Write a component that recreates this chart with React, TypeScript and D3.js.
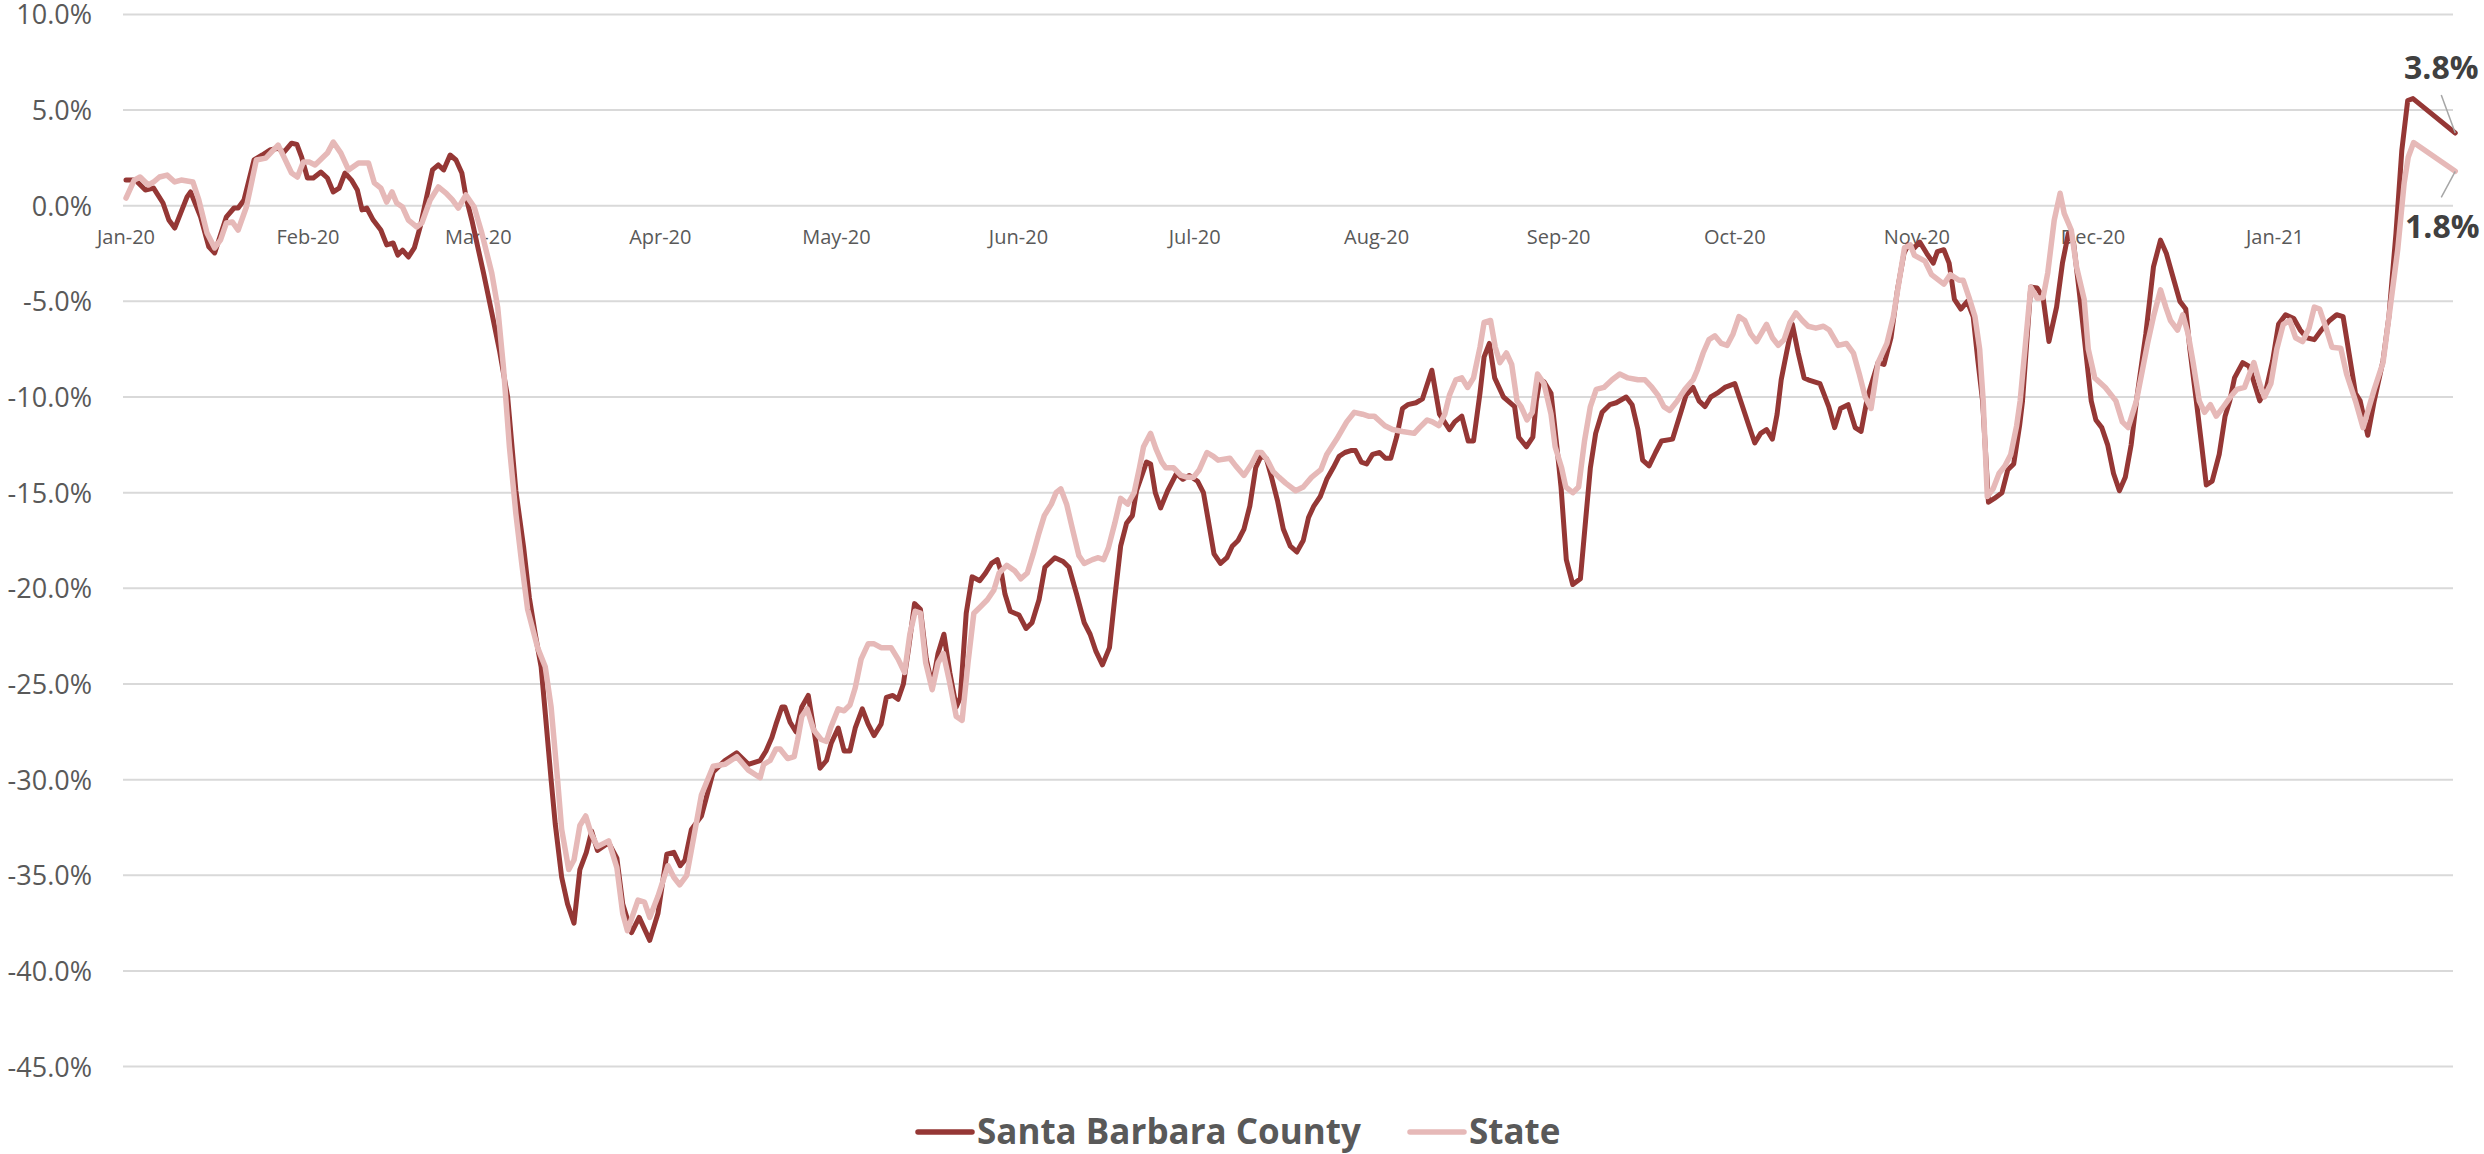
import React, { useEffect } from 'react';
import * as d3 from 'd3';

// days since 1 Jan 2020, percent change
const countySeries: [number, number][] = [
  [0, 1.34], [1.6, 1.34], [3.3, 0.82], [4.7, 0.92], [6.3, 0.14], [7.3, -0.75], [8.3, -1.17],
  [10.4, 0.46], [11, 0.72], [12.7, -0.58], [14.1, -2.15], [15.1, -2.47], [17.1, -0.58],
  [18.4, -0.12], [19.1, -0.12], [20.1, 0.3], [21.8, 2.39], [23.2, 2.65], [24.5, 2.91],
  [25.9, 3.0], [26.9, 2.8], [28.2, 3.27], [29.1, 3.2], [29.9, 2.55], [30.9, 1.45],
  [31.9, 1.45], [33.2, 1.76], [34.3, 1.45], [35.3, 0.72], [36.3, 0.92], [37.3, 1.71],
  [38.4, 1.34], [39.4, 0.82], [40.2, -0.22], [41, -0.12], [42.1, -0.75], [43.4, -1.27],
  [44.4, -2.05], [45.5, -1.95], [46.3, -2.58], [47.1, -2.32], [48.1, -2.68], [49.1, -2.21],
  [50.1, -1.11], [51.2, 0.46], [52.2, 1.87], [53.2, 2.13], [54.1, 1.87], [55.2, 2.65],
  [56.2, 2.39], [57.2, 1.71], [57.9, 0.46], [58.9, -0.75], [60.9, -3.53], [62.3, -5.6],
  [63.6, -7.55], [65, -10.0], [66.4, -14.9], [67.7, -17.8], [68.7, -20.5], [69.7, -22.4],
  [70.7, -24.1], [71.4, -26.5], [72.4, -30.0], [73.1, -32.3], [74.2, -35.1], [75.2, -36.5],
  [76.3, -37.5], [77.3, -34.7], [78.4, -33.8], [79.3, -32.7], [80.3, -33.7], [82.2, -33.3],
  [83.6, -34.1], [84.6, -36.5], [86.1, -38.0], [87.4, -37.2], [89.2, -38.4], [90.6, -37.0],
  [92.1, -33.9], [93.3, -33.8], [94.4, -34.5], [95.2, -34.2], [96.3, -32.6], [98, -31.9],
  [100, -29.6], [102, -29.0], [104, -28.6], [106, -29.2], [108, -29.0], [109, -28.5],
  [110, -27.8], [110.7, -27.1], [111.7, -26.2], [112.2, -26.2], [113.1, -27.0], [114.1, -27.5],
  [115.1, -26.2], [116.2, -25.6], [117.1, -27.3], [118.2, -29.4], [119.3, -29.0], [120.1, -28.1],
  [121.3, -27.3], [122.3, -28.5], [123.3, -28.5], [124.2, -27.3], [125.4, -26.3], [126.4, -27.1],
  [127.4, -27.7], [128.6, -27.1], [129.5, -25.7], [130.6, -25.6], [131.5, -25.8], [132.4, -25.0],
  [133.3, -23.1], [134.3, -20.8], [135.3, -21.1], [136.3, -23.7], [137.3, -25.1], [138.3, -23.4],
  [139.3, -22.4], [140.3, -24.4], [141.4, -26.2], [142.1, -25.7], [143.1, -21.3], [144.1, -19.4],
  [145.4, -19.6], [146.4, -19.2], [147.4, -18.7], [148.4, -18.5], [149.1, -19.2], [149.7, -20.3],
  [150.6, -21.2], [152.1, -21.4], [153.3, -22.1], [154.3, -21.8], [155.5, -20.6], [156.5, -18.9],
  [158.2, -18.4], [159.6, -18.6], [160.6, -18.9], [161.9, -20.3], [163.2, -21.8], [164.2, -22.4],
  [165.2, -23.3], [166.3, -24.0], [167.5, -23.1], [168.4, -20.5], [169.4, -17.8], [170.4, -16.6],
  [171.4, -16.2], [172.1, -14.9], [173.8, -13.4], [174.5, -13.5], [175.3, -15.0], [176.2, -15.8],
  [177.4, -14.9], [178.9, -14.0], [180, -14.3], [181.1, -14.1], [182.5, -14.4], [183.5, -15.0],
  [184.3, -16.4], [185.3, -18.2], [186.4, -18.7], [187.5, -18.4], [188.4, -17.8], [189.4, -17.5],
  [190.4, -16.9], [191.4, -15.7], [192.4, -13.7], [193.3, -13.1], [194.2, -13.2], [195.1, -14.2],
  [196.1, -15.4], [197.1, -16.9], [198.3, -17.8], [199.4, -18.1], [200.5, -17.5], [201.4, -16.3],
  [202.3, -15.7], [203.4, -15.2], [204.5, -14.3], [205.6, -13.7], [206.6, -13.1], [207.6, -12.9],
  [208.6, -12.8], [209.4, -12.8], [210.4, -13.4], [211.3, -13.5], [212.3, -13.0], [213.5, -12.9],
  [214.5, -13.2], [215.4, -13.2], [216.4, -12.1], [217.4, -10.6], [218.3, -10.4], [219.7, -10.3],
  [220.8, -10.1], [222.4, -8.6], [223.7, -10.9], [225.4, -11.7], [226.3, -11.3], [227.5, -11.0],
  [228.6, -12.3], [229.5, -12.3], [230.6, -9.8], [231.3, -7.9], [232.2, -7.2], [233.1, -9.0],
  [234.6, -10.0], [236.5, -10.5], [237.2, -12.1], [238.5, -12.6], [239.6, -12.1], [240.2, -10.2],
  [240.8, -9.1], [241.5, -9.2], [242.7, -9.8], [243.7, -12.6], [244.4, -14.7], [245.3, -18.5],
  [246.4, -19.8], [247.7, -19.5], [248.6, -16.4], [249.4, -13.7], [250.3, -11.9], [251.4, -10.8],
  [252.7, -10.4], [253.8, -10.3], [255.5, -10.0], [256.5, -10.4], [257.5, -11.7], [258.3, -13.3],
  [259.4, -13.6], [260.5, -12.9], [261.5, -12.3], [263.4, -12.2], [264.2, -11.4], [264.9, -10.7],
  [265.7, -9.9], [266.9, -9.5], [267.9, -10.2], [268.9, -10.5], [269.9, -10.0], [271, -9.8],
  [272.3, -9.5], [274, -9.3], [275.1, -10.3], [276.4, -11.5], [277.4, -12.4], [278.4, -11.9],
  [279.4, -11.7], [280.4, -12.2], [281.2, -10.9], [281.9, -9.1], [282.8, -7.7], [283.8, -6.2],
  [284.8, -7.7], [285.8, -9.0], [286.5, -9.1], [288.5, -9.3], [290, -10.5], [291, -11.6],
  [292, -10.6], [293.3, -10.4], [294.5, -11.6], [295.5, -11.8], [296.6, -10.0], [298.4, -8.2],
  [299.4, -8.3], [300.6, -6.9], [301.7, -4.4], [302.8, -2.5], [303.5, -2.05], [304.6, -2.2],
  [305.5, -1.9], [306.7, -2.5], [307.8, -3.0], [308.5, -2.4], [309.6, -2.3], [310.5, -3.0],
  [311.4, -4.9], [312.5, -5.4], [313.6, -5.0], [314.6, -5.8], [315.4, -8.1], [316.2, -10.2],
  [317.2, -15.5], [318.2, -15.3], [319.5, -15.0], [320.5, -13.8], [321.5, -13.5], [322.5, -11.5],
  [323, -10.2], [324.4, -4.25], [325.5, -4.3], [326.5, -4.8], [327.5, -7.1], [328.8, -5.3],
  [329.8, -3.0], [330.8, -1.45], [331.7, -1.95], [332.7, -4.6], [333.8, -7.7], [334.7, -10.2],
  [335.5, -11.2], [336.5, -11.6], [337.5, -12.5], [338.5, -14.0], [339.5, -14.9], [340.5, -14.2],
  [341.5, -12.5], [342.4, -10.2], [344, -6.7], [345.3, -3.2], [346.5, -1.8], [347.5, -2.5],
  [348.6, -3.7], [349.8, -5.0], [350.8, -5.4], [351.5, -7.5], [352.6, -10.2], [353.5, -12.5],
  [354.3, -14.6], [355.3, -14.4], [356.5, -13.0], [357.5, -11.0], [358.3, -10.2], [359.1, -9.0],
  [360.5, -8.2], [361.6, -8.4], [362.7, -9.5], [363.4, -10.2], [364.5, -9.6], [365.6, -8.1],
  [366.6, -6.2], [367.8, -5.7], [369.2, -5.9], [370.3, -6.5], [371.4, -6.9], [372.7, -7.0],
  [373.9, -6.5], [375.3, -6.0], [376.5, -5.7], [377.6, -5.8], [378.6, -7.7], [379.7, -9.8],
  [380.5, -10.2], [381.8, -12.0], [382.9, -10.2], [384.4, -8.1], [385.4, -5.8], [386.6, -1.45],
  [387.6, 2.9], [388.6, 5.5], [389.5, 5.6], [396.7, 3.8],
];

const stateSeries: [number, number][] = [
  [0, 0.4], [1.4, 1.34], [2.4, 1.5], [3.8, 1.08], [4.7, 1.24], [5.7, 1.5], [7, 1.6], [8.3, 1.24],
  [9.4, 1.34], [11.4, 1.24], [12.4, 0.3], [13.8, -1.43], [15.1, -2.21], [16.1, -1.79], [17.1, -0.9],
  [18.1, -0.85], [19.1, -1.27], [20.5, -0.07], [22.2, 2.39], [23.8, 2.49], [25.9, 3.17], [26.9, 2.55],
  [28.2, 1.71], [29.2, 1.5], [30.2, 2.28], [31.2, 2.28], [32.2, 2.13], [34.3, 2.75], [35.3, 3.33],
  [36.6, 2.75], [37.9, 1.87], [39.6, 2.23], [41.3, 2.23], [42.3, 1.19], [43.4, 0.92], [44.4, 0.19],
  [45.3, 0.72], [46.1, 0.14], [47.1, -0.07], [48.1, -0.75], [49.5, -1.11], [50.4, -0.9], [51.8, 0.3],
  [53.2, 0.98], [54.5, 0.66], [55.6, 0.3], [56.6, -0.12], [57.9, 0.56], [59.3, -0.07], [60.6, -1.43],
  [62.3, -3.53], [63.3, -5.3], [64.3, -8.5], [65.3, -12.6], [66.4, -16.1], [67.4, -18.7], [68.4, -21.1],
  [70.1, -23.1], [71.4, -24.1], [72.4, -26.2], [73.5, -30.0], [74.2, -32.6], [75.4, -34.7], [76.3, -34.2],
  [77.3, -32.4], [78.3, -31.9], [79.2, -32.8], [80.3, -33.5], [82.2, -33.2], [83.6, -34.6], [84.6, -37.0],
  [85.4, -37.9], [87.2, -36.3], [88.3, -36.4], [89.2, -37.2], [90.6, -36.1], [92.3, -34.5], [93.3, -35.1],
  [94.3, -35.5], [95.5, -35.0], [96.7, -33.0], [98, -30.8], [100, -29.3], [102, -29.2], [104, -28.8],
  [106, -29.5], [108, -29.9], [108.6, -29.2], [109.7, -29.0], [110.7, -28.4], [111.4, -28.4],
  [112.7, -28.9], [113.8, -28.8], [114.4, -27.9], [115.1, -26.7], [116, -26.3], [117.1, -27.4],
  [118.4, -27.9], [119.3, -28.0], [120, -27.3], [121.3, -26.3], [122.3, -26.4], [123.3, -26.1],
  [124.2, -25.2], [125.2, -23.7], [126.4, -22.9], [127.4, -22.9], [128.6, -23.1], [130.3, -23.1],
  [131.5, -23.7], [132.6, -24.4], [133.5, -22.4], [134.4, -21.2], [135.3, -21.3], [136.2, -23.9],
  [137.3, -25.3], [138.3, -23.9], [139.2, -23.4], [140.2, -24.8], [141.4, -26.7], [142.4, -26.9],
  [143.4, -23.9], [144.4, -21.3], [145.4, -21.0], [146.7, -20.6], [147.8, -20.1], [148.7, -19.2],
  [150, -18.8], [151.4, -19.1], [152.4, -19.5], [153.5, -19.2], [154.5, -18.2], [155.5, -17.1],
  [156.4, -16.2], [157.6, -15.6], [158.4, -15.0], [159.2, -14.8], [160.2, -15.6], [161.2, -16.9],
  [162.3, -18.3], [163.2, -18.7], [164.6, -18.5], [165.6, -18.4], [166.5, -18.5], [167.3, -17.9],
  [168.4, -16.6], [169.4, -15.3], [170.6, -15.6], [171.7, -15.0], [172.6, -13.7], [173.3, -12.6],
  [174.5, -11.9], [175.4, -12.7], [176.4, -13.4], [177.1, -13.7], [178.4, -13.7], [179.7, -14.1],
  [180.8, -14.2], [181.8, -14.2], [182.8, -13.8], [184.1, -12.9], [185.2, -13.1], [186, -13.3],
  [188, -13.2], [189, -13.6], [190.4, -14.1], [191.7, -13.5], [192.7, -12.9], [193.4, -12.9],
  [194.4, -13.3], [195.4, -13.9], [196.4, -14.2], [197.5, -14.5], [199.2, -14.9], [200.5, -14.7],
  [201.9, -14.2], [203.5, -13.8], [204.5, -13.0], [206.2, -12.2], [207.9, -11.3], [209.2, -10.8],
  [210.6, -10.9], [211.6, -11.0], [212.6, -11.0], [214.4, -11.5], [215.7, -11.7], [217.4, -11.8],
  [219.4, -11.9], [220.3, -11.6], [221.6, -11.2], [222.5, -11.3], [223.6, -11.5], [224.6, -10.9],
  [225.4, -9.9], [226.5, -9.1], [227.5, -9.0], [228.5, -9.5], [229.5, -9.0], [230.6, -7.4],
  [231.3, -6.1], [232.4, -6.0], [233.2, -7.4], [234, -8.2], [235.1, -7.7], [236, -8.3],
  [236.9, -10.2], [237.6, -10.5], [238.6, -11.2], [239.5, -10.8], [240.4, -8.8], [241.5, -9.3],
  [242.7, -10.9], [243.4, -12.6], [244.5, -13.7], [245.2, -14.7], [246.4, -15.0], [247.4, -14.7],
  [248.4, -12.3], [249.4, -10.5], [250.4, -9.6], [251.7, -9.5], [253.1, -9.1], [254.4, -8.8],
  [255.8, -9.0], [257.5, -9.1], [258.7, -9.1], [259.9, -9.5], [260.9, -9.9], [261.9, -10.5],
  [262.9, -10.7], [264.2, -10.2], [265.5, -9.6], [266.9, -9.1], [267.6, -8.6], [268.6, -7.7],
  [269.6, -7.0], [270.6, -6.8], [271.7, -7.2], [272.7, -7.3], [273.7, -6.7], [274.7, -5.8],
  [275.7, -6.0], [276.7, -6.7], [277.7, -7.1], [279.4, -6.2], [280.4, -6.9], [281.4, -7.3],
  [282.4, -7.0], [283.4, -6.1], [284.4, -5.6], [285.5, -6.0], [286.5, -6.3], [287.8, -6.4],
  [289.1, -6.3], [290.1, -6.5], [291.6, -7.3], [293, -7.2], [294.2, -7.7], [295.2, -8.8],
  [296.2, -10.0], [297.2, -10.6], [298.4, -8.2], [299.9, -7.2], [301, -5.8], [302, -3.9],
  [302.9, -2.2], [303.9, -2.05], [304.6, -2.6], [306.4, -2.9], [307.5, -3.6], [309.6, -4.1],
  [310.7, -3.6], [312.2, -3.9], [312.9, -3.9], [314, -4.9], [314.9, -5.8], [315.7, -7.5],
  [316.3, -10.2], [317, -15.2], [318, -14.8], [319, -14.0], [320, -13.6], [321, -13.0],
  [322, -11.5], [322.6, -10.2], [324.4, -4.25], [325.5, -4.85], [326.5, -4.8], [327.3, -3.5],
  [328.4, -0.75], [329.4, 0.65], [330.1, -0.4], [331.3, -1.27], [332.2, -3.2], [333.5, -4.9],
  [334.2, -7.5], [335.3, -9.0], [337.1, -9.5], [338.9, -10.2], [340, -11.3], [341, -11.6],
  [342.4, -10.2], [344.3, -7.2], [345.3, -5.8], [346.5, -4.4], [347.4, -5.3], [348.2, -6.0],
  [349.4, -6.5], [350.3, -5.7], [351.2, -6.7], [352, -8.1], [353.1, -10.2], [354, -10.8],
  [355, -10.4], [356, -11.0], [357, -10.6], [358.4, -10.0], [359.5, -9.6], [360.8, -9.5],
  [362.4, -8.2], [363.4, -9.3], [364.2, -10.0], [365.3, -9.3], [366.3, -7.5], [367.4, -6.2],
  [368.5, -6.0], [369.5, -6.9], [370.7, -7.1], [371.8, -6.4], [372.7, -5.3], [373.6, -5.4],
  [374.7, -6.4], [375.7, -7.4], [377.2, -7.45], [378.2, -8.8], [379.7, -10.2], [381, -11.6],
  [382.9, -9.6], [384.4, -8.2], [385.8, -4.9], [386.9, -2.3], [388, 1.2], [388.7, 2.55],
  [389.6, 3.3], [396.7, 1.8],
];

const seriesNames = ['Santa Barbara County', 'State'];
const seriesColors = ['#953735', '#E6B9B8'];
const yTicks = [10, 5, 0, -5, -10, -15, -20, -25, -30, -35, -40, -45];
const monthTicks = [
  '2020-01-01', '2020-02-01', '2020-03-01', '2020-04-01', '2020-05-01', '2020-06-01', '2020-07-01',
  '2020-08-01', '2020-09-01', '2020-10-01', '2020-11-01', '2020-12-01', '2021-01-01',
];
const endLabels = ['3.8%', '1.8%'];

const App = () => {
  const width = 2484;
  const height = 1154;
  const plotLeft = 123;
  const plotRight = 2453;
  const textColor = '#595959';
  const font = "'Open Sans', 'Liberation Sans', sans-serif";

  useEffect(() => {
    document.body.style.margin = '0';
  }, []);

  const start = Date.UTC(2020, 0, 1);
  const toDate = (day: number) => new Date(start + day * 864e5);

  const xScale = d3
    .scaleUtc()
    .domain([new Date(start), new Date(Date.UTC(2021, 0, 1))])
    .range([126, 2275]);

  const yScale = d3.scaleLinear().domain([-45, 10]).range([1066.6, 14.4]);

  const lineGenerator = d3
    .line<[number, number]>()
    .x(d => xScale(toDate(d[0])))
    .y(d => yScale(d[1]));

  const fmt = d3.utcFormat('%b-%y');
  const countyEnd = countySeries[countySeries.length - 1];
  const stateEnd = stateSeries[stateSeries.length - 1];
  const cx = xScale(toDate(countyEnd[0]));
  const cy = yScale(countyEnd[1]);
  const sx = xScale(toDate(stateEnd[0]));
  const sy = yScale(stateEnd[1]);

  return (
    <svg width={width} height={height} style={{ display: 'block', background: '#fff' }}>
      {yTicks.map(t => (
        <g key={`y-${t}`}>
          <line
            x1={plotLeft}
            x2={plotRight}
            y1={yScale(t)}
            y2={yScale(t)}
            stroke='#D9D9D9'
            strokeWidth='2'
          />
          <text
            x={92}
            y={yScale(t) + 10}
            textAnchor='end'
            fontFamily={font}
            fontSize='27'
            fill={textColor}
          >
            {`${t.toFixed(1)}%`}
          </text>
        </g>
      ))}
      {monthTicks.map(m => {
        const d = new Date(m + 'T00:00:00Z');
        return (
          <text
            key={m}
            x={xScale(d)}
            y={244}
            textAnchor='middle'
            fontFamily={font}
            fontSize='20'
            fill={textColor}
          >
            {fmt(d)}
          </text>
        );
      })}
      <path
        d={lineGenerator(countySeries) || ''}
        fill='none'
        stroke={seriesColors[0]}
        strokeWidth='5'
        strokeLinejoin='round'
        strokeLinecap='round'
      />
      <path
        d={lineGenerator(stateSeries) || ''}
        fill='none'
        stroke={seriesColors[1]}
        strokeWidth='5.5'
        strokeLinejoin='round'
        strokeLinecap='round'
      />
      <line x1={cx - 14} y1={cy - 38} x2={cx} y2={cy} stroke='#A6A6A6' strokeWidth='1.5' />
      <line x1={sx} y1={sy} x2={sx - 14} y2={sy + 26} stroke='#A6A6A6' strokeWidth='1.5' />
      <text
        x={cx - 14}
        y={79}
        textAnchor='middle'
        fontFamily={font}
        fontSize='32'
        fontWeight='bold'
        fill='#404040'
      >
        {endLabels[0]}
      </text>
      <text
        x={sx - 13}
        y={238}
        textAnchor='middle'
        fontFamily={font}
        fontSize='32'
        fontWeight='bold'
        fill='#404040'
      >
        {endLabels[1]}
      </text>
      <g fontFamily={font} fontSize='35' fontWeight='bold' fill={textColor}>
        <line x1={918} x2={972} y1={1132} y2={1132} stroke={seriesColors[0]} strokeWidth='5.5' strokeLinecap='round' />
        <text x={977} y={1144}>{seriesNames[0]}</text>
        <line x1={1410} x2={1464} y1={1132} y2={1132} stroke={seriesColors[1]} strokeWidth='5.5' strokeLinecap='round' />
        <text x={1469} y={1144}>{seriesNames[1]}</text>
      </g>
    </svg>
  );
};

export default App;
